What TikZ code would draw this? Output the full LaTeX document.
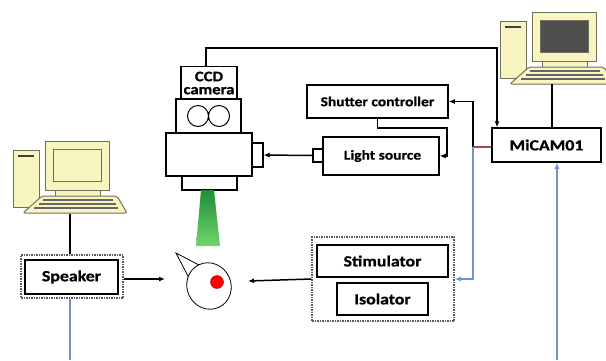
\documentclass[tikz,border=0pt]{standalone}
\usepackage{fontspec}
\usepackage{tikz}
\usetikzlibrary{arrows.meta,positioning,shapes.geometric}

\newfontfamily\labelfont{Carlito}[FakeStretch=1.15, BoldFeatures={FakeBold=0.8}]
\newcommand{\bigfont}{\labelfont\bfseries\fontsize{15.5}{16}\selectfont}
\newcommand{\midfont}{\labelfont\bfseries\fontsize{13.5}{14}\selectfont}
\newcommand{\camfont}{\labelfont\bfseries\fontsize{14.5}{15}\selectfont}

\definecolor{pcbody}{RGB}{249,245,193}
\definecolor{pcedge}{RGB}{112,112,96}
\definecolor{pcscreen}{RGB}{78,78,76}
\definecolor{wireblue}{RGB}{110,147,201}
\definecolor{wirebrown}{RGB}{155,80,80}
\definecolor{beamtop}{RGB}{35,140,55}
\definecolor{beambot}{RGB}{110,215,110}

% desktop computer, #1 = top left of the monitor, #2 = screen colour
\newcommand{\drawpc}[2]{%
  \begin{scope}[shift={#1}]
    \draw[pcedge, line width=1pt, fill=pcbody] (-32,9) rectangle (-6,66);
    \draw[black!75, line width=1.4pt] (-27,15) -- (-11,15);
    \draw[pcedge, line width=1pt, fill=pcbody] (10,48) rectangle (55,56);
    \draw[pcedge, line width=1pt, fill=pcbody] (0,0) rectangle (64,49);
    \draw[pcedge, line width=1pt, fill=#2] (8,8) rectangle (56,40);
    \draw[pcedge, line width=1pt, fill=pcbody, rounded corners=2pt]
      (-3,55) -- (72,55) -- (82,72) -- (-22,72) -- cycle;
    \draw[black!60, line width=1.2pt] (-2,59) -- (68,59);
    \draw[black!60, line width=1.2pt] (-6,63) -- (71,63);
    \draw[black!60, line width=1.2pt] (-11,67) -- (73,67);
  \end{scope}}

\begin{document}
\begin{tikzpicture}[x=1pt,y=-1pt,
  box/.style={draw, line width=1.5pt, fill=white, inner sep=0pt, font=\bigfont},
  midbox/.style={box, font=\midfont},
  campart/.style={draw, line width=1.1pt, fill=white, inner sep=0pt},
  group/.style={draw=black!65, densely dotted, line width=1.5pt, inner sep=0pt},
  wire/.style={line width=1.5pt},
  bluewire/.style={wire, wireblue},
  tip/.style={-{Latex[length=6pt,width=5pt]}}]

\useasboundingbox (0,0) rectangle (606,360);
\clip (0,0) rectangle (606,360);

% computers
\drawpc{(45,141)}{pcbody}
\drawpc{(532,12)}{pcscreen}

% microscope with the CCD camera on top
\node[campart, font=\camfont, align=center, minimum width=56pt, minimum height=33pt] (ccdtop) at (209,83) {CCD\\[-2pt]camera};
\node[campart, minimum width=65pt, minimum height=34pt] (lens) at (208.5,116) {};
\draw[line width=1pt] (198,116) circle (10.5) (219,116) circle (10.5);
\node[campart, minimum width=86pt, minimum height=43pt] (body) at (209,154.5) {};
\node[campart, minimum width=11pt, minimum height=24pt] (port) at (257.5,155) {};
\node[campart, minimum width=55pt, minimum height=14pt] (foot) at (209.5,183) {};
\shade[top color=beamtop, bottom color=beambot] (201,190) -- (214,190) -- (220,246) -- (196,246) -- cycle;

% preparation
\coordinate (eyetip) at (176,253);
\draw[line width=0.8pt] (199,265) -- (eyetip) -- (189,278);
\node[draw, ellipse, line width=0.8pt, fill=white, inner sep=0pt, minimum width=44pt, minimum height=47pt, rotate=25] (eye) at (209,286) {};
\node[circle, fill=red, draw=red!60!black, inner sep=0pt, minimum size=13pt] (pupil) at (217,282) {};
\coordinate (eyeL) at (165,279);
\coordinate (eyeR) at (248,281);

% equipment
\node[midbox, minimum width=141pt, minimum height=33pt] (shutter) at (377.5,101.5) {Shutter controller};
\node[midbox, minimum width=116pt, minimum height=38pt] (light) at (381,156) {\hspace*{3pt}Light source};
\node[campart, minimum width=10pt, minimum height=13pt] (lampport) at (318,155.5) {};
\node[box, minimum width=109pt, minimum height=34pt] (micam) at (546.5,145) {MiCAM01};

\node[group, minimum width=142pt, minimum height=84pt] (stimgroup) at (383,279) {};
\node[box, minimum width=131pt, minimum height=32pt] (stim) at (382.5,261) {Stimulator};
\node[box, minimum width=91pt, minimum height=32pt] (iso) at (382.5,299) {Isolator};

\node[group, minimum width=102pt, minimum height=43pt] (spkgroup) at (72,276.5) {};
\node[box, minimum width=93pt, minimum height=34pt] (spk) at (71.5,277) {Speaker};

% connections
\coordinate (toprun) at (497,48);
\coordinate (shutbend) at (447,128);
\coordinate (junc) at (473,147);
\coordinate (pcleft) at (70,214);
\coordinate (pcright) at (552,84);
\coordinate (spkout) at (70,360);
\coordinate (micamin) at (557,360);

\draw[wire, tip] (ccdtop.north -| 206,0) |- (toprun) -- (toprun |- micam.north);
\draw[wire, tip] (lampport.west) -- (port.east);
\draw[wire, tip] (shutter.south) |- (shutbend) |- (light.east);
\draw[wire, tip] (junc) |- (shutter.east);
\draw[line width=1.5pt, wirebrown] (junc) -- (junc -| micam.west);
\draw[bluewire, tip] (junc) |- (stimgroup.east);
\draw[wire, tip] (stimgroup.west) -- (eyeR);
\draw[wire, tip] (spkgroup.east |- eyeL) -- (eyeL);
\draw[wire] (pcleft) -- (pcleft |- spkgroup.north);
\draw[wire] (pcright) -- (pcright |- micam.north);
\draw[bluewire] (spkout |- spkgroup.south) -- (spkout);
\draw[bluewire, tip] (micamin) -- (micamin |- micam.south);

\end{tikzpicture}
\end{document}
